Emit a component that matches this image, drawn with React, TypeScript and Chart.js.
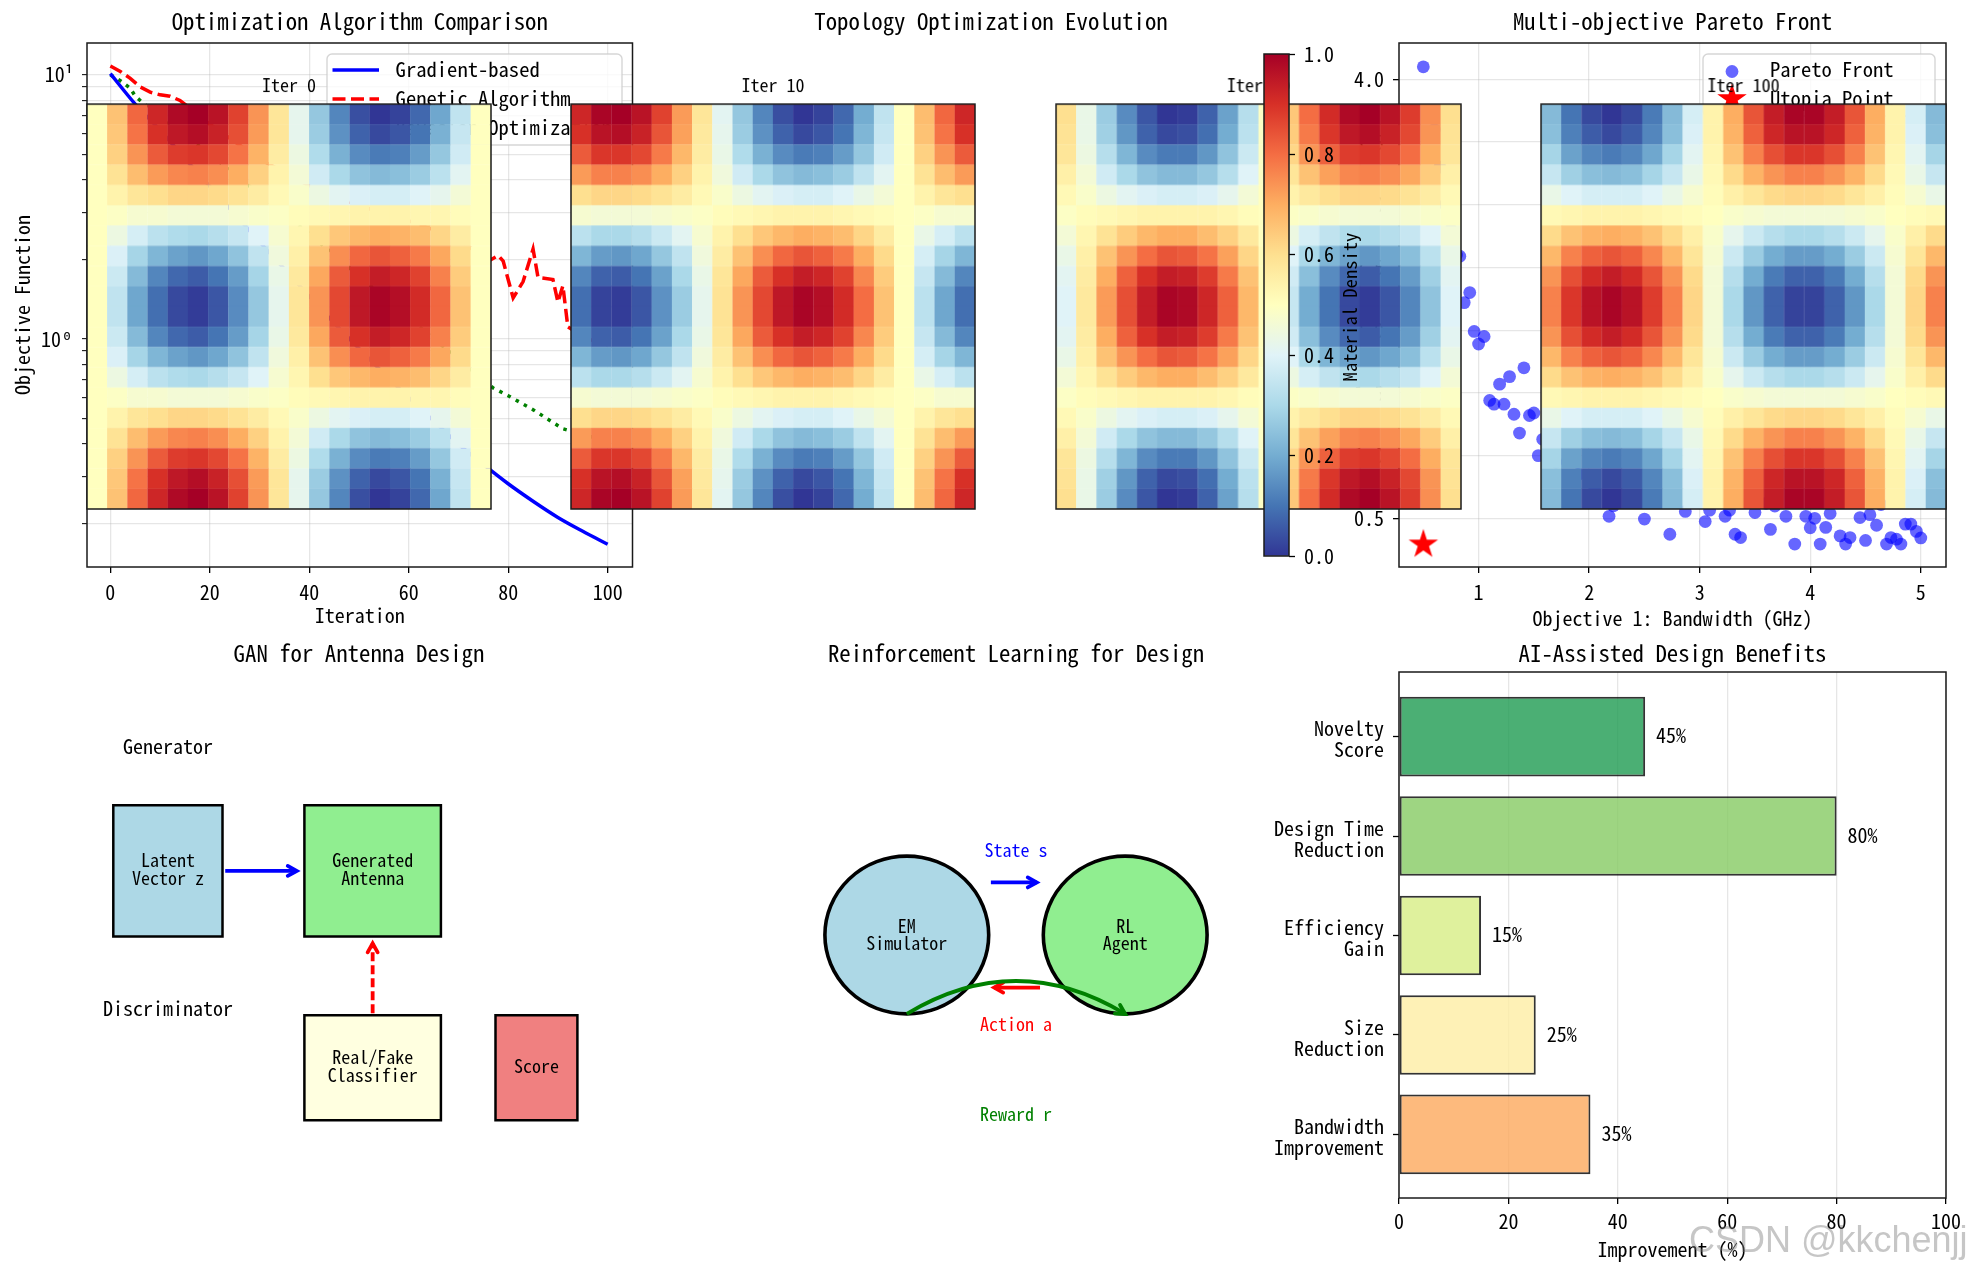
import React, { useEffect, useRef } from "react";
import { Chart, registerables } from "chart.js";

Chart.register(...registerables);

const MONO = '"Noto Sans Mono CJK SC", "DejaVu Sans Mono", monospace';
Chart.defaults.font.family = MONO;
Chart.defaults.color = "#000";

// ---------- data: convergence ----------
const gradIter = [0, 5, 10, 15, 20, 25, 30, 35, 40, 45, 50, 55, 60, 65, 70, 75, 80, 85, 90, 95, 100];
const gradVals = [10.1, 7.75, 6.17, 4.82, 3.78, 2.97, 2.33, 1.84, 1.45, 1.15, 0.92, 0.74, 0.6, 0.49, 0.4, 0.335, 0.283, 0.243, 0.211, 0.187, 0.167];
const gaIter = [0, 2, 4, 6, 8, 10, 12, 14, 20, 30, 40, 50, 60, 70, 76, 78, 79, 81, 83, 85, 86, 89, 90, 91, 92, 96, 100];
const gaVals = [10.8, 10.3, 9.7, 9.0, 8.6, 8.4, 8.3, 8.0, 6.5, 4.8, 3.8, 3.2, 2.8, 2.4, 1.97, 2.07, 1.97, 1.43, 1.65, 2.19, 1.71, 1.68, 1.38, 1.59, 1.11, 1.0, 0.95];
const boIter = [0, 2, 4, 5, 7, 20, 40, 60, 77, 80, 85, 91, 96, 100];
const boVals = [10, 9.5, 8.9, 8.3, 7.7, 5, 2.5, 1.2, 0.652, 0.61, 0.54, 0.457, 0.43, 0.41];
const convTicks = [0.2, 0.3, 0.4, 0.5, 0.6, 0.7, 0.8, 0.9, 1, 2, 3, 4, 5, 6, 7, 8, 9, 10];
const xTicks100 = [0, 20, 40, 60, 80, 100];

// ---------- data: topology density (percent), upper ten rows; lower rows mirror them ----------
const heatIter0 = [
  [50,66,81,92,98,100,96,87,74,58,42,26,13,4,0,2,8,19,34,50],
  [50,65,79,90,95,97,93,85,73,58,42,27,15,7,3,5,10,21,35,50],
  [50,63,74,83,88,89,86,79,69,56,44,31,21,14,11,12,17,26,37,50],
  [50,59,67,73,76,77,75,70,63,54,46,37,30,25,23,24,27,33,41,50],
  [50,54,58,60,62,62,61,59,56,52,48,44,41,39,38,38,40,42,46,50],
  [50,49,47,47,46,46,46,47,48,49,51,52,53,54,54,54,53,53,51,50],
  [50,44,38,33,31,30,32,35,40,47,53,60,65,68,70,69,67,62,56,50],
  [50,39,29,22,18,16,19,25,34,45,55,66,75,81,84,82,78,71,61,50],
  [50,36,23,13,8,6,10,17,29,43,57,71,83,90,94,92,87,77,64,50],
  [50,34,19,9,3,1,5,14,26,42,58,74,86,95,99,97,91,81,66,50],
];
const heatIter10 = [
  [92,99,100,96,87,73,58,41,26,13,4,0,2,8,20,34,50,67,81,92],
  [90,96,97,93,84,72,57,42,27,15,7,3,5,10,22,35,50,66,79,90],
  [83,89,89,86,78,68,56,43,31,21,14,11,12,17,26,37,50,63,74,83],
  [73,77,77,75,70,63,54,45,37,30,25,23,24,27,34,41,50,59,67,73],
  [60,62,62,61,59,56,52,48,44,41,39,38,38,40,43,46,50,54,58,60],
  [47,46,46,46,47,48,49,51,52,53,54,54,54,53,52,51,50,49,47,47],
  [33,30,30,32,36,41,47,54,60,65,68,70,69,67,62,56,50,43,38,33],
  [22,17,16,19,26,34,45,56,66,75,81,84,82,78,70,61,50,38,29,22],
  [13,7,6,10,18,30,43,58,71,83,90,94,92,87,76,64,50,35,23,13],
  [9,2,1,5,15,27,42,59,74,86,95,99,97,91,80,66,50,33,19,9],
];
const heatIter50 = [
  [60,43,27,14,5,0,1,7,18,32,49,65,80,91,98,100,96,88,75,60],
  [59,43,28,16,7,3,4,9,20,33,49,64,78,89,95,97,93,86,74,59],
  [58,44,32,22,14,11,11,16,25,36,49,62,74,82,88,89,86,80,70,58],
  [55,46,37,30,25,23,23,26,32,40,49,58,66,72,76,77,75,71,64,55],
  [52,48,44,41,39,38,38,39,42,46,50,54,57,60,62,62,61,59,56,52],
  [49,51,52,53,54,54,54,54,53,51,50,49,48,47,46,46,46,47,48,49],
  [46,53,59,64,68,70,70,67,63,57,50,44,38,34,31,30,32,35,40,46],
  [43,55,66,74,80,84,83,79,72,62,51,40,30,22,18,16,19,24,33,43],
  [41,56,70,82,90,94,93,88,78,66,51,37,24,14,8,6,10,17,28,41],
  [40,57,73,85,94,99,98,92,82,68,51,35,20,10,3,1,5,13,25,40],
];
const heatIter100 = [
  [23,10,3,0,3,11,23,38,54,70,84,94,99,99,94,84,70,54,38,23],
  [24,12,6,3,6,13,24,39,54,69,82,92,96,96,92,82,69,54,39,24],
  [29,18,13,11,13,19,29,41,53,66,77,85,89,89,85,77,66,53,41,29],
  [35,28,24,23,24,29,35,43,52,61,69,74,77,77,74,69,61,52,43,35],
  [43,40,38,38,38,40,43,47,51,55,58,61,62,62,61,58,55,51,47,43],
  [52,53,54,54,54,53,52,51,50,48,47,46,46,46,46,47,48,50,51,52],
  [61,66,69,70,69,66,61,55,48,42,36,32,30,30,32,36,42,48,55,61],
  [68,77,82,84,82,76,68,58,47,36,27,20,17,17,20,27,36,47,58,68],
  [74,85,91,94,91,84,74,61,46,32,20,11,7,7,11,20,32,46,61,74],
  [77,89,96,99,96,88,77,62,46,30,16,7,2,2,7,16,30,46,62,77],
];
const colorbarTicks = [0, 0.2, 0.4, 0.6, 0.8, 1];
const rdYlBuR = ["#313695", "#4575b4", "#74add1", "#abd9e9", "#e0f3f8", "#ffffbf", "#fee090", "#fdae61", "#f46d43", "#d73027", "#a50026"];

// ---------- data: Pareto front ----------
const paretoX = [0.5, 0.6, 0.65, 0.7, 0.75, 0.8, 0.83, 0.92, 0.87, 0.96, 1.05, 1.0, 1.41, 1.28, 1.19, 1.1, 1.14, 1.23, 1.32, 1.46, 1.5, 1.37, 1.58, 1.54, 1.7, 1.9, 2.05, 2.22, 2.18, 2.5, 2.87, 2.73, 3.05, 3.09, 3.23, 3.27, 3.32, 3.37, 3.5, 3.6, 3.64, 3.68, 3.78, 3.86, 3.96, 4.0, 4.04, 4.09, 4.14, 4.18, 4.27, 4.32, 4.36, 4.45, 4.5, 4.54, 4.6, 4.64, 4.69, 4.73, 4.78, 4.82, 4.86, 4.91, 4.96, 5.0];
const paretoY = [4.1, 3.6, 3.3, 3.0, 2.8, 2.6, 2.59, 2.3, 2.22, 1.99, 1.95, 1.89, 1.7, 1.63, 1.57, 1.44, 1.41, 1.41, 1.33, 1.32, 1.34, 1.18, 1.13, 1.0, 0.95, 0.85, 0.75, 0.6, 0.516, 0.494, 0.555, 0.373, 0.474, 0.565, 0.516, 0.565, 0.373, 0.347, 0.546, 0.62, 0.412, 0.598, 0.516, 0.295, 0.516, 0.425, 0.5, 0.295, 0.428, 0.539, 0.36, 0.295, 0.347, 0.506, 0.324, 0.529, 0.445, 0.61, 0.295, 0.347, 0.334, 0.295, 0.454, 0.454, 0.396, 0.344];
const utopiaX = [0.5];
const utopiaY = [0.3];
const paretoXTicks = [1, 2, 3, 4, 5];
const paretoYTicks = [0.5, 1, 1.5, 2, 2.5, 3, 3.5, 4];

// ---------- data: benefits ----------
const benefitLabels = [["Bandwidth", "Improvement"], ["Size", "Reduction"], ["Efficiency", "Gain"], ["Design Time", "Reduction"], ["Novelty", "Score"]];
const benefitVals = [35, 25, 15, 80, 45];
const benefitColors = ["rgba(253,169,92,.8)", "rgba(254,237,164,.8)", "rgba(215,237,133,.8)", "rgba(134,203,99,.8)", "rgba(30,155,81,.8)"];

// ---------- diagrams ----------
const ganBoxes = [
  { x: 0.5, y: 5, w: 2, h: 2.5, fill: "#add8e6", text: "Latent\nVector z" },
  { x: 4, y: 5, w: 2.5, h: 2.5, fill: "#90ee90", text: "Generated\nAntenna" },
  { x: 4, y: 1.5, w: 2.5, h: 2, fill: "#ffffe0", text: "Real/Fake\nClassifier" },
  { x: 7.5, y: 1.5, w: 1.5, h: 2, fill: "#f08080", text: "Score" },
];
const ganCaptions = [
  { x: 1.5, y: 8.63, text: "Generator" },
  { x: 1.5, y: 3.63, text: "Discriminator" },
];
const rlCircles = [
  { x: 3, y: 5, r: 1.5, fill: "#add8e6", text: "EM\nSimulator" },
  { x: 7, y: 5, r: 1.5, fill: "#90ee90", text: "RL\nAgent" },
];
const rlCaptions = [
  { x: 5, y: 6.62, text: "State s", color: "#0000ff" },
  { x: 5, y: 3.3, text: "Action a", color: "#ff0000" },
  { x: 5, y: 1.6, text: "Reward r", color: "#008000" },
];

// ---------- helpers ----------
const TICK = 20;
const TITLE = 22.8;
const SMALL = 18;
const GRID = "rgba(176,176,176,.32)";

function hex(c: string) {
  return [parseInt(c.slice(1, 3), 16), parseInt(c.slice(3, 5), 16), parseInt(c.slice(5, 7), 16)];
}
function cmap(t: number) {
  const p = Math.max(0, Math.min(0.9999, t)) * (rdYlBuR.length - 1);
  const i = Math.floor(p);
  const a = hex(rdYlBuR[i]);
  const b = hex(rdYlBuR[i + 1]);
  const f = p - i;
  return `rgb(${a[0] + (b[0] - a[0]) * f},${a[1] + (b[1] - a[1]) * f},${a[2] + (b[2] - a[2]) * f})`;
}

let starImg: HTMLCanvasElement | null = null;
function star() {
  if (starImg) return starImg;
  const c = document.createElement("canvas");
  c.width = 32;
  c.height = 32;
  const g = c.getContext("2d")!;
  g.fillStyle = "#ff0000";
  g.beginPath();
  for (let i = 0; i < 10; i++) {
    const r = i % 2 === 0 ? 15.5 : 15.5 * 0.382;
    const a = -Math.PI / 2 + (i * Math.PI) / 5;
    const x = 16 + r * Math.cos(a);
    const y = 17 + r * Math.sin(a);
    if (i === 0) g.moveTo(x, y);
    else g.lineTo(x, y);
  }
  g.closePath();
  g.fill();
  starImg = c;
  return c;
}

const frame = {
  id: "frame",
  afterDraw(c: any) {
    const { left, top, right, bottom } = c.chartArea;
    const g = c.ctx;
    g.save();
    g.strokeStyle = "#1a1a1a";
    g.lineWidth = 1.5;
    g.setLineDash([]);
    g.strokeRect(left, top, right - left, bottom - top);
    g.restore();
  },
};

function multiline(g: any, text: string, x: number, y: number, lh: number) {
  const lines = text.split("\n");
  lines.forEach((l, i) => g.fillText(l, x, y + (i - (lines.length - 1) / 2) * lh));
}

function arrowHead(g: any, x: number, y: number, ang: number, color: string) {
  g.save();
  g.setLineDash([]);
  g.strokeStyle = color;
  g.lineWidth = 3.8;
  g.lineCap = "round";
  g.beginPath();
  g.moveTo(x - 9 * Math.cos(ang) + 5 * Math.sin(ang), y - 9 * Math.sin(ang) - 5 * Math.cos(ang));
  g.lineTo(x, y);
  g.lineTo(x - 9 * Math.cos(ang) - 5 * Math.sin(ang), y - 9 * Math.sin(ang) + 5 * Math.cos(ang));
  g.stroke();
  g.restore();
}

function arrow(c: any, x1: number, y1: number, x2: number, y2: number, color: string, dash: number[] = []) {
  const g = c.ctx;
  const px = (v: number) => c.scales.x.getPixelForValue(v);
  const py = (v: number) => c.scales.y.getPixelForValue(v);
  g.save();
  g.strokeStyle = color;
  g.lineWidth = 3.8;
  g.setLineDash(dash);
  g.beginPath();
  g.moveTo(px(x1), py(y1));
  g.lineTo(px(x2), py(y2));
  g.stroke();
  g.restore();
  arrowHead(g, px(x2), py(y2), Math.atan2(py(y2) - py(y1), px(x2) - px(x1)), color);
}

const ganPlugin = {
  id: "gan",
  afterDraw(c: any) {
    const g = c.ctx;
    const px = (v: number) => c.scales.x.getPixelForValue(v);
    const py = (v: number) => c.scales.y.getPixelForValue(v);
    g.save();
    ganBoxes.forEach((b) => {
      g.fillStyle = b.fill;
      g.strokeStyle = "#000";
      g.lineWidth = 2.5;
      const x = px(b.x);
      const y = py(b.y + b.h);
      const w = px(b.x + b.w) - x;
      const h = py(b.y) - y;
      g.fillRect(x, y, w, h);
      g.strokeRect(x, y, w, h);
      g.fillStyle = "#000";
      g.font = `${SMALL}px ${MONO}`;
      g.textAlign = "center";
      g.textBaseline = "middle";
      multiline(g, b.text, px(b.x + b.w / 2), py(b.y + b.h / 2) - 1.5, 18);
    });
    g.font = `${TICK}px ${MONO}`;
    g.fillStyle = "#000";
    ganCaptions.forEach((t) => g.fillText(t.text, px(t.x), py(t.y)));
    g.restore();
    arrow(c, 2.55, 6.25, 3.86, 6.25, "#0000ff");
    arrow(c, 5.25, 3.54, 5.25, 4.87, "#ff0000", [9, 4]);
  },
};

const rlPlugin = {
  id: "rl",
  afterDraw(c: any) {
    const g = c.ctx;
    const px = (v: number) => c.scales.x.getPixelForValue(v);
    const py = (v: number) => c.scales.y.getPixelForValue(v);
    g.save();
    rlCircles.forEach((o) => {
      g.fillStyle = o.fill;
      g.strokeStyle = "#000";
      g.lineWidth = 3.6;
      g.beginPath();
      g.ellipse(px(o.x), py(o.y), px(o.x + o.r) - px(o.x), py(o.y) - py(o.y + o.r), 0, 0, Math.PI * 2);
      g.fill();
      g.stroke();
      g.fillStyle = "#000";
      g.font = `${SMALL}px ${MONO}`;
      g.textAlign = "center";
      g.textBaseline = "middle";
      multiline(g, o.text, px(o.x), py(o.y), 17.2);
    });
    g.font = `${SMALL}px ${MONO}`;
    rlCaptions.forEach((t) => {
      g.fillStyle = t.color;
      g.fillText(t.text, px(t.x), py(t.y));
    });
    g.restore();
    arrow(c, 4.54, 6, 5.38, 6, "#0000ff");
    arrow(c, 5.44, 4, 4.6, 4, "#ff0000");
    g.save();
    g.strokeStyle = "#008000";
    g.lineWidth = 3.8;
    g.beginPath();
    g.moveTo(px(3), py(3.5));
    g.quadraticCurveTo(px(5), py(4.75), px(7), py(3.5));
    g.stroke();
    g.restore();
    arrowHead(g, px(7), py(3.5), Math.atan2(py(3.5) - py(4.75), px(7) - px(5)), "#008000");
  },
};

const convLegend = {
  id: "convLegend",
  afterDatasetsDraw(c: any) {
    const g = c.ctx;
    g.save();
    g.beginPath();
    g.roundRect(327, 54, 295, 91, 5);
    g.fillStyle = "rgba(255,255,255,.8)";
    g.fill();
    g.strokeStyle = "rgba(204,204,204,.8)";
    g.lineWidth = 1.4;
    g.stroke();
    c.data.datasets.forEach((d: any, i: number) => {
      const y = 70 + i * 29;
      g.strokeStyle = d.borderColor;
      g.lineWidth = 3.5;
      g.setLineDash(d.borderDash || []);
      g.beginPath();
      g.moveTo(332.5, y);
      g.lineTo(379, y);
      g.stroke();
      g.fillStyle = "#000";
      g.font = `20.6px ${MONO}`;
      g.textAlign = "left";
      g.textBaseline = "middle";
      g.fillText(d.label, 395.6, y - 1);
    });
    g.restore();
  },
};

const PARETO_LEFT = 1340;
const paretoLegend = {
  id: "paretoLegend",
  afterDatasetsDraw(c: any) {
    const g = c.ctx;
    const X = (v: number) => v - PARETO_LEFT;
    g.save();
    g.beginPath();
    g.roundRect(X(1703), 54, 232, 62, 5);
    g.fillStyle = "rgba(255,255,255,.8)";
    g.fill();
    g.strokeStyle = "rgba(204,204,204,.8)";
    g.lineWidth = 1.4;
    g.stroke();
    g.fillStyle = "rgba(0,0,255,.6)";
    g.beginPath();
    g.arc(X(1732), 71.5, 6.4, 0, Math.PI * 2);
    g.fill();
    g.drawImage(star(), X(1732) - 16, 98 - 16);
    g.fillStyle = "#000";
    g.font = `20.6px ${MONO}`;
    g.textAlign = "left";
    g.textBaseline = "middle";
    c.data.datasets.forEach((d: any, i: number) => g.fillText(d.label, X(1770), 70 + i * 29 - 1));
    g.restore();
  },
};

const barLabels = {
  id: "barLabels",
  afterDatasetsDraw(c: any) {
    const g = c.ctx;
    g.save();
    g.fillStyle = "#000";
    g.font = `${TICK}px ${MONO}`;
    g.textAlign = "left";
    g.textBaseline = "middle";
    benefitVals.forEach((v, i) => {
      g.fillText(`${v}%`, c.scales.x.getPixelForValue(v + 2), c.scales.y.getPixelForValue(i) - 1);
    });
    g.restore();
  },
};

const watermark = {
  id: "watermark",
  afterDraw(c: any) {
    const g = c.ctx;
    g.save();
    g.font = '36px "Liberation Sans", sans-serif';
    g.textAlign = "left";
    g.textBaseline = "middle";
    g.fillStyle = "rgba(120,120,120,.42)";
    g.fillText("CSDN @kkchenjj", 1689 - 1260, 1242 - 630);
    g.restore();
  },
};

const densityLabel = {
  id: "densityLabel",
  afterDraw(c: any) {
    const g = c.ctx;
    g.save();
    g.translate(87.5, 307 - 44);
    g.rotate(-Math.PI / 2);
    g.fillStyle = "#000";
    g.font = `18.6px ${MONO}`;
    g.textAlign = "center";
    g.textBaseline = "middle";
    g.fillText("Material Density", 0, 0);
    g.restore();
  },
};

function titleOpt(text: string, size: number, top: number, bottom: number, fullSize = false, lh = "22.8px") {
  return {
    display: true,
    text,
    fullSize,
    color: "#000",
    font: { size, weight: "normal" as const, lineHeight: lh, family: MONO },
    padding: { top, bottom },
  };
}

function axisTitle(text: string, pad: number) {
  return {
    display: true,
    text,
    color: "#000",
    font: { size: TICK, lineHeight: "20.4px", family: MONO },
    padding: { top: pad, bottom: pad },
  };
}

function valueAxis(opts: any, fitW?: number, fitH?: number, tickVals?: number[]) {
  return {
    ...opts,
    border: { display: false },
    afterFit: (s: any) => {
      if (fitW !== undefined) s.width = fitW;
      if (fitH !== undefined) s.height = fitH;
      s.paddingTop = 0;
      s.paddingBottom = 0;
      s.paddingLeft = 0;
      s.paddingRight = 0;
    },
    afterBuildTicks: tickVals
      ? (s: any) => {
          s.ticks = tickVals.map((v) => ({ value: v }));
        }
      : undefined,
  };
}

function tickFont() {
  return { size: TICK, family: MONO };
}

const baseOpts = { responsive: false, animation: false as const, maintainAspectRatio: false };
const noPlugins = { legend: { display: false }, tooltip: { enabled: false } };

function toPts(xs: number[], ys: number[]) {
  return xs.map((x, i) => ({ x, y: ys[i] }));
}

// ---------- panels ----------
function convConfig() {
  return {
    type: "line",
    data: {
      datasets: [
        { label: "Gradient-based", data: toPts(gradIter, gradVals), borderColor: "#0000ff", borderWidth: 3.5, pointRadius: 0, cubicInterpolationMode: "monotone" },
        { label: "Genetic Algorithm", data: toPts(gaIter, gaVals), borderColor: "#ff0000", borderWidth: 3.5, borderDash: [13, 5.5], pointRadius: 0, tension: 0 },
        { label: "Bayesian Optimization", data: toPts(boIter, boVals), borderColor: "#008000", borderWidth: 3.5, borderDash: [3.5, 5.8], pointRadius: 0, tension: 0 },
      ],
    },
    options: {
      ...baseOpts,
      layout: { padding: { right: 17.5 }, autoPadding: false },
      plugins: { ...noPlugins, title: titleOpt("Optimization Algorithm Comparison", TITLE, 10, 10.2) },
      scales: {
        x: valueAxis(
          {
            type: "linear",
            min: -4.7,
            max: 105,
            title: axisTitle("Iteration", 14),
            grid: { color: GRID, lineWidth: 1.3, tickColor: "#000", tickLength: 6, tickWidth: 1.3 },
            ticks: { font: tickFont(), padding: 7, maxRotation: 0, autoSkip: false },
          },
          undefined,
          73,
          xTicks100
        ),
        y: valueAxis(
          {
            type: "logarithmic",
            min: 0.137,
            max: 13.2,
            title: axisTitle("Objective Function", 12),
            grid: { color: GRID, lineWidth: 1.3, tickColor: "#000", tickLength: 5, tickWidth: 1 },
            ticks: {
              font: tickFont(),
              padding: 9,
              autoSkip: false,
              callback: (v: number) => (v === 1 ? "10\u2070" : v === 10 ? "10\u00b9" : ""),
            },
          },
          87,
          undefined,
          convTicks
        ),
      },
    },
    plugins: [convLegend, frame],
  };
}

function topologyTitleConfig() {
  return {
    type: "scatter",
    data: { datasets: [] },
    options: {
      ...baseOpts,
      plugins: { ...noPlugins, title: titleOpt("Topology Optimization Evolution", TITLE, 10, 10.2, true) },
      scales: { x: { display: false }, y: { display: false } },
    },
  };
}

function paretoConfig() {
  return {
    type: "scatter",
    data: {
      datasets: [
        { label: "Pareto Front", data: toPts(paretoX, paretoY), backgroundColor: "rgba(0,0,255,.6)", borderWidth: 0, pointRadius: 6.4 },
        { label: "Utopia Point", data: toPts(utopiaX, utopiaY), pointStyle: star(), pointRadius: 16, borderWidth: 0 },
      ],
    },
    options: {
      ...baseOpts,
      layout: { padding: { right: 30 }, autoPadding: false },
      plugins: { ...noPlugins, title: titleOpt("Multi-objective Pareto Front", TITLE, 10, 10.2) },
      scales: {
        x: valueAxis(
          {
            type: "linear",
            min: 0.28,
            max: 5.228,
            title: axisTitle("Objective 1: Bandwidth (GHz)", 11),
            grid: { color: GRID, lineWidth: 1.3, tickColor: "#000", tickLength: 6, tickWidth: 1.3 },
            ticks: { font: tickFont(), padding: 7, maxRotation: 0, autoSkip: false },
          },
          undefined,
          73,
          paretoXTicks
        ),
        y: valueAxis(
          {
            type: "linear",
            min: 0.112,
            max: 4.29,
            grid: { color: GRID, lineWidth: 1.3, tickColor: "#000", tickLength: 6, tickWidth: 1.3 },
            ticks: { font: tickFont(), padding: 9, autoSkip: false, callback: (v: number) => v.toFixed(1) },
          },
          59,
          undefined,
          paretoYTicks
        ),
      },
    },
    plugins: [paretoLegend, frame],
  };
}

function diagramConfig(title: string, plugin: any, top: number, bottom: number) {
  return {
    type: "scatter",
    data: { datasets: [] },
    options: {
      ...baseOpts,
      layout: { autoPadding: false },
      plugins: { ...noPlugins, title: titleOpt(title, TITLE, top, bottom, true) },
      scales: {
        x: { type: "linear", display: false, min: 0, max: 10 },
        y: { type: "linear", display: false, min: 0, max: 10 },
      },
    },
    plugins: [plugin],
  };
}

function benefitConfig() {
  return {
    type: "bar",
    data: {
      datasets: [
        {
          data: toPts(benefitVals, benefitVals.map((_, i) => i)),
          backgroundColor: benefitColors,
          borderColor: "rgba(0,0,0,.8)",
          borderWidth: 2,
          borderSkipped: false,
          categoryPercentage: 0.8,
          barPercentage: 1,
        },
      ],
    },
    options: {
      ...baseOpts,
      indexAxis: "y",
      layout: { padding: { right: 30 }, autoPadding: false },
      plugins: { ...noPlugins, title: titleOpt("AI-Assisted Design Benefits", TITLE, 11.5, 7.7) },
      scales: {
        x: valueAxis(
          {
            type: "linear",
            min: 0,
            max: 100,
            title: axisTitle("Improvement (%)", 14.8),
            grid: { color: GRID, lineWidth: 1.3, tickColor: "#000", tickLength: 6, tickWidth: 1.3 },
            ticks: { font: tickFont(), padding: 5, maxRotation: 0, autoSkip: false },
          },
          undefined,
          76,
          xTicks100
        ),
        y: valueAxis(
          {
            type: "linear",
            offset: false,
            min: -0.64,
            max: 4.65,
            grid: { offset: false, drawOnChartArea: false, tickColor: "#000", tickLength: 6, tickWidth: 1.3 },
            ticks: {
              font: { size: TICK, family: MONO, lineHeight: "21px" },
              padding: 9,
              labelOffset: 2.5,
              autoSkip: false,
              callback: (v: number) => benefitLabels[v],
            },
          },
          139,
          undefined,
          [0, 1, 2, 3, 4]
        ),
      },
    },
    plugins: [barLabels, frame, watermark],
  };
}

function heatConfig(title: string, top: number[][]) {
  const rows = [...top, ...[...top].reverse()];
  const pts: any[] = [];
  rows.forEach((row, j) => row.forEach((v, i) => pts.push({ x: i, y: j, v })));
  return {
    type: "scatter",
    data: {
      datasets: [
        {
          data: pts,
          pointStyle: "rect",
          pointRadius: 14.45,
          borderWidth: 0,
          backgroundColor: (ctx: any) => (ctx.raw ? cmap(ctx.raw.v / 100) : "#fff"),
        },
      ],
    },
    options: {
      ...baseOpts,
      layout: { padding: { left: 2, right: 2, bottom: 2 }, autoPadding: false },
      plugins: { ...noPlugins, title: titleOpt(title, SMALL, 6, 10, true, "18px") },
      scales: {
        x: { type: "linear", display: false, min: -0.5, max: 19.5 },
        y: { type: "linear", display: false, min: -0.5, max: 19.5, reverse: true },
      },
    },
    plugins: [frame],
  };
}

function colorbarConfig() {
  return {
    type: "bar",
    data: {
      labels: ["density"],
      datasets: [
        {
          data: [[colorbarTicks[0], colorbarTicks[colorbarTicks.length - 1]]],
          categoryPercentage: 1,
          barPercentage: 1,
          borderWidth: 0,
          backgroundColor: (ctx: any) => {
            const a = ctx.chart.chartArea;
            if (!a) return "#fff";
            const grad = ctx.chart.ctx.createLinearGradient(0, a.bottom, 0, a.top);
            rdYlBuR.forEach((c, i) => grad.addColorStop(i / (rdYlBuR.length - 1), c));
            return grad;
          },
        },
      ],
    },
    options: {
      ...baseOpts,
      layout: { padding: { left: 2, top: 10, bottom: 10 }, autoPadding: false },
      plugins: { ...noPlugins },
      scales: {
        x: { display: false },
        y: valueAxis(
          {
            type: "linear",
            position: "right",
            min: 0,
            max: 1,
            grid: { drawOnChartArea: false, tickColor: "#000", tickLength: 6, tickWidth: 1.3 },
            ticks: { font: tickFont(), padding: 9, autoSkip: false, callback: (v: number) => v.toFixed(1) },
          },
          93,
          undefined,
          colorbarTicks
        ),
      },
    },
    plugins: [frame, densityLabel],
  };
}

const HEAT_W = 408.5;
const HEAT_H = 440.5;
const panels: { left: number; top: number; w: number; h: number; config: () => any }[] = [
  { left: 0, top: 0, w: 650, h: 640, config: convConfig },
  { left: 691, top: 0, w: 600, h: 60, config: topologyTitleConfig },
  { left: PARETO_LEFT, top: 0, w: 636, h: 640, config: paretoConfig },
  { left: 86, top: 631, w: 546, h: 568, config: () => diagramConfig("GAN for Antenna Design", ganPlugin, 10.5, 9.7) },
  { left: 743, top: 630, w: 546, h: 568, config: () => diagramConfig("Reinforcement Learning for Design", rlPlugin, 11.5, 7.7) },
  { left: 1260, top: 630, w: 716, h: 644, config: benefitConfig },
  { left: 84.5, top: 70, w: HEAT_W, h: HEAT_H, config: () => heatConfig("Iter 0", heatIter0) },
  { left: 568.5, top: 70, w: HEAT_W, h: HEAT_H, config: () => heatConfig("Iter 10", heatIter10) },
  { left: 1054, top: 70, w: HEAT_W, h: HEAT_H, config: () => heatConfig("Iter 50", heatIter50) },
  { left: 1539, top: 70, w: HEAT_W, h: HEAT_H, config: () => heatConfig("Iter 100", heatIter100) },
  { left: 1262, top: 44, w: 120, h: 522, config: colorbarConfig },
];

export default function App() {
  const refs = useRef<(HTMLCanvasElement | null)[]>([]);
  useEffect(() => {
    const charts = panels.map((p, i) => new Chart(refs.current[i] as HTMLCanvasElement, p.config()));
    return () => charts.forEach((c) => c.destroy());
  }, []);
  return (
    <div style={{ position: "fixed", inset: 0, background: "#fff", overflow: "hidden" }}>
      {panels.map((p, i) => (
        <canvas
          key={i}
          ref={(el) => {
            refs.current[i] = el;
          }}
          width={p.w}
          height={p.h}
          style={{ position: "absolute", left: p.left, top: p.top, width: p.w, height: p.h }}
        />
      ))}
    </div>
  );
}
